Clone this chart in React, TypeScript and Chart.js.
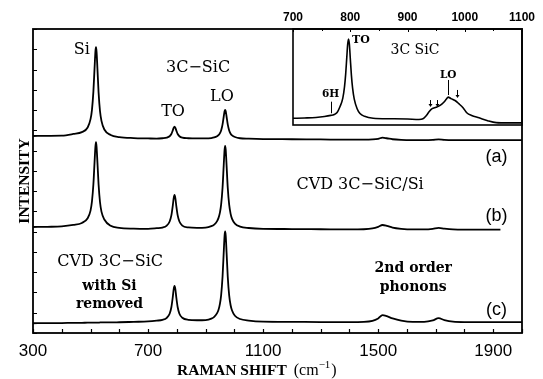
import React, { useEffect, useRef } from "react";
import { Chart, registerables } from "chart.js";
Chart.register(...registerables);

// ---- main spectra (Raman shift, cm^-1) ----
const ramanShift = [
  300, 350, 400, 440, 470, 490, 500, 505, 510, 514, 517, 519, 521, 524, 528, 533, 538, 548, 570, 600,
  650, 700, 730, 750, 765, 775, 781, 786, 789, 792, 795, 798, 803, 809, 819, 840, 870, 900, 920, 930,
  940, 945, 950, 954, 959, 963, 966, 968, 970, 973, 977, 982, 987, 992, 1002, 1020, 1050, 1100, 1200, 1300,
  1400, 1450, 1480, 1500, 1515, 1530, 1550, 1580, 1620, 1660, 1690, 1710, 1730, 1760, 1800, 1850, 1925, 2000,
];
// (a) 3C-SiC on Si (backscattering)
const spectrumA = [
  9.72, 9.73, 9.74, 9.82, 9.91, 10.14, 10.55, 11.01, 11.92, 13.07, 13.89, 14.1, 13.88, 13.04, 11.87, 10.94, 10.47, 10.04, 9.77, 9.67,
  9.62, 9.6, 9.59, 9.61, 9.64, 9.71, 9.82, 10.0, 10.12, 10.18, 10.12, 10.0, 9.82, 9.71, 9.64, 9.61, 9.6, 9.6, 9.62, 9.65,
  9.71, 9.76, 9.86, 9.99, 10.29, 10.67, 10.94, 11.01, 10.94, 10.67, 10.29, 9.99, 9.83, 9.75, 9.67, 9.61, 9.59, 9.57, 9.56, 9.55,
  9.54, 9.54, 9.55, 9.58, 9.64, 9.61, 9.56, 9.53, 9.52, 9.52, 9.53, 9.55, 9.53, 9.52, 9.52, 9.52, 9.52, 9.52,
];
// (b) CVD 3C-SiC/Si
const spectrumB = [
  5.23, 5.24, 5.26, 5.33, 5.43, 5.66, 6.04, 6.49, 7.35, 8.43, 9.2, 9.42, 9.19, 8.41, 7.33, 6.45, 5.99, 5.6, 5.29, 5.19,
  5.15, 5.14, 5.17, 5.2, 5.3, 5.5, 5.8, 6.29, 6.64, 6.81, 6.64, 6.29, 5.8, 5.5, 5.3, 5.21, 5.19, 5.2, 5.27, 5.35,
  5.52, 5.68, 5.95, 6.33, 7.18, 8.26, 9.04, 9.23, 9.04, 8.26, 7.18, 6.33, 5.88, 5.63, 5.4, 5.25, 5.18, 5.14, 5.13, 5.12,
  5.11, 5.12, 5.16, 5.24, 5.33, 5.29, 5.2, 5.14, 5.11, 5.11, 5.14, 5.19, 5.15, 5.11, 5.1, 5.1, 5.1, null,
];
// (c) CVD 3C-SiC with Si removed
const spectrumC = [
  0.48, 0.49, 0.49, 0.5, 0.5, 0.51, 0.51, 0.51, 0.51, 0.51, 0.51, 0.51, 0.51, 0.51, 0.51, 0.52, 0.52, 0.52, 0.52, 0.53,
  0.55, 0.57, 0.61, 0.65, 0.75, 0.95, 1.27, 1.78, 2.15, 2.32, 2.15, 1.78, 1.27, 0.95, 0.75, 0.65, 0.63, 0.64, 0.71, 0.8,
  0.98, 1.15, 1.45, 1.86, 2.79, 3.96, 4.8, 5.01, 4.8, 3.96, 2.79, 1.86, 1.37, 1.11, 0.85, 0.69, 0.61, 0.56, 0.55, 0.54,
  0.54, 0.55, 0.6, 0.72, 0.88, 0.83, 0.72, 0.61, 0.55, 0.55, 0.62, 0.73, 0.64, 0.56, 0.54, 0.54, 0.54, 0.54,
];
const xTickLabels = [300, 700, 1100, 1500, 1900];

// ---- inset: 3C SiC detail ----
const insetShift = [
  700, 720, 740, 755, 766, 772, 777, 782, 787, 790, 792, 794, 795.5, 797, 798.5, 800, 802, 804, 807, 812,
  817, 825, 840, 870, 900, 920, 927, 933, 938, 943, 950, 957, 963, 968, 971, 976, 983, 990, 997, 1004,
  1012, 1025, 1040, 1055, 1075, 1100,
];
const insetIntensity = [
  0.07, 0.073, 0.078, 0.088, 0.1, 0.11, 0.13, 0.19, 0.28, 0.4, 0.53, 0.71, 0.84, 0.895, 0.84, 0.7, 0.52, 0.39, 0.27, 0.17,
  0.12, 0.09, 0.07, 0.065, 0.062, 0.058, 0.065, 0.1, 0.14, 0.17, 0.185, 0.205, 0.235, 0.27, 0.29, 0.275, 0.255, 0.22, 0.18, 0.125,
  0.1, 0.075, 0.045, 0.025, 0.022, 0.022,
];
const insetTickLabels = [700, 800, 900, 1000, 1100];

const SERIF = "'DejaVu Serif', serif";
const TITLE_SERIF = "'Liberation Serif', 'Times New Roman', serif";
const SANS = "'Liberation Sans', Arial, sans-serif";

const mainNotes = [
  { text: "Si", x: 470, y: 13.96, font: `16px ${SERIF}` },
  { text: "3C\u2212SiC", x: 874, y: 13.08, font: `16px ${SERIF}` },
  { text: "TO", x: 787, y: 10.9, font: `16px ${SERIF}` },
  { text: "LO", x: 957, y: 11.64, font: `16px ${SERIF}` },
  { text: "(a)", x: 1911, y: 8.7, font: `18px ${SANS}` },
  { text: "CVD 3C\u2212SiC/Si", x: 1437, y: 7.3, font: `16px ${SERIF}` },
  { text: "(b)", x: 1911, y: 5.75, font: `18px ${SANS}` },
  { text: "CVD 3C\u2212SiC", x: 568, y: 3.5, font: `16px ${SERIF}` },
  { text: "with Si", x: 566, y: 2.32, font: `bold 14px ${SERIF}` },
  { text: "removed", x: 566, y: 1.43, font: `bold 14px ${SERIF}` },
  { text: "2nd order", x: 1622, y: 3.21, font: `bold 14px ${SERIF}` },
  { text: "phonons", x: 1622, y: 2.27, font: `bold 14px ${SERIF}` },
  { text: "(c)", x: 1911, y: 1.13, font: `18px ${SANS}` },
];

const mainDecor = {
  id: "mainDecor",
  afterDraw(chart: any) {
    const { ctx, chartArea: a } = chart;
    const x = chart.scales.x;
    const y = chart.scales.y;
    ctx.save();
    ctx.strokeStyle = "#000";
    ctx.lineWidth = 1.8;
    ctx.strokeRect(a.left, a.top, a.right - a.left, a.bottom - a.top);
    ctx.lineWidth = 1.2;
    ctx.beginPath();
    y.ticks.forEach((t: any) => {
      const py = Math.round(y.getPixelForValue(t.value)) + 0.5;
      ctx.moveTo(a.left, py);
      ctx.lineTo(a.left + 4, py);
    });
    x.ticks.forEach((t: any) => {
      const px = Math.round(x.getPixelForValue(t.value)) + 0.5;
      ctx.moveTo(px, a.bottom);
      ctx.lineTo(px, a.bottom - 4);
    });
    ctx.stroke();

    ctx.fillStyle = "#000";
    ctx.textAlign = "center";
    ctx.textBaseline = "middle";
    for (const n of mainNotes) {
      ctx.font = n.font;
      ctx.fillText(n.text, x.getPixelForValue(n.x), y.getPixelForValue(n.y));
    }

    // x-axis title with superscript
    ctx.textAlign = "left";
    ctx.textBaseline = "alphabetic";
    const base = 375;
    let tx = a.left + 144;
    ctx.font = `bold 15.5px ${TITLE_SERIF}`;
    ctx.fillText("RAMAN SHIFT", tx, base);
    tx += ctx.measureText("RAMAN SHIFT").width + 7;
    ctx.font = `16px ${TITLE_SERIF}`;
    ctx.fillText("(cm", tx, base);
    tx += ctx.measureText("(cm").width;
    ctx.font = `11px ${TITLE_SERIF}`;
    ctx.fillText("\u22121", tx, base - 7);
    tx += ctx.measureText("\u22121").width + 1;
    ctx.font = `16px ${TITLE_SERIF}`;
    ctx.fillText(")", tx, base);
    ctx.restore();
  },
};

const insetDecor = {
  id: "insetDecor",
  afterDraw(chart: any) {
    const { ctx, chartArea: a } = chart;
    const x = chart.scales.x;
    const y = chart.scales.y;
    ctx.save();
    ctx.strokeStyle = "#000";
    ctx.lineWidth = 1.6;
    ctx.strokeRect(a.left, a.top, a.right - a.left, a.bottom - a.top);
    ctx.lineWidth = 1;
    ctx.beginPath();
    x.ticks.forEach((t: any) => {
      const px = Math.round(x.getPixelForValue(t.value)) + 0.5;
      const len = t.value % 100 === 0 ? 3 : 2;
      ctx.moveTo(px, a.top);
      ctx.lineTo(px, a.top + len);
    });
    // marker lines: 6H and LO
    const vline = (w: number, v0: number, v1: number) => {
      const px = Math.round(x.getPixelForValue(w)) + 0.5;
      ctx.moveTo(px, y.getPixelForValue(v0));
      ctx.lineTo(px, y.getPixelForValue(v1));
    };
    vline(766, 0.243, 0.122);
    vline(971, 0.469, 0.3125);
    ctx.stroke();

    // arrows pointing down
    const arrow = (w: number, v0: number, v1: number) => {
      const px = Math.round(x.getPixelForValue(w)) + 0.5;
      const p0 = y.getPixelForValue(v0);
      const p1 = y.getPixelForValue(v1);
      ctx.beginPath();
      ctx.moveTo(px, p0);
      ctx.lineTo(px, p1 - 2);
      ctx.stroke();
      ctx.beginPath();
      ctx.moveTo(px - 2, p1 - 3);
      ctx.lineTo(px + 2, p1 - 3);
      ctx.lineTo(px, p1);
      ctx.closePath();
      ctx.fill();
    };
    ctx.fillStyle = "#000";
    arrow(939, 0.26, 0.1875);
    arrow(951, 0.26, 0.1875);
    arrow(986, 0.365, 0.28);

    ctx.textBaseline = "middle";
    ctx.textAlign = "left";
    ctx.font = `bold 11px ${SERIF}`;
    ctx.fillText("TO", x.getPixelForValue(803), y.getPixelForValue(0.885));
    ctx.textAlign = "center";
    ctx.font = `14px ${SERIF}`;
    ctx.fillText("3C SiC", x.getPixelForValue(913), y.getPixelForValue(0.78));
    ctx.font = `bold 10.5px ${SERIF}`;
    ctx.fillText("6H", x.getPixelForValue(765.5), y.getPixelForValue(0.316));
    ctx.fillText("LO", x.getPixelForValue(971), y.getPixelForValue(0.52));
    ctx.restore();
  },
};

export default function App() {
  const mainRef = useRef<HTMLCanvasElement | null>(null);
  const insetRef = useRef<HTMLCanvasElement | null>(null);

  useEffect(() => {
    const mk = (ys: (number | null)[]) => ({
      data: ramanShift.map((w, i) => ({ x: w, y: ys[i] })),
      borderColor: "#000",
      borderWidth: 1.8,
      pointRadius: 0,
      fill: false,
      cubicInterpolationMode: "monotone" as const,
      spanGaps: false,
    });
    const main = new Chart(mainRef.current as HTMLCanvasElement, {
      type: "line",
      data: { datasets: [mk(spectrumA), mk(spectrumB), mk(spectrumC)] },
      options: {
        responsive: false,
        animation: false,
        parsing: false,
        layout: { padding: { left: 0, top: 29, right: 21, bottom: 0 } },
        plugins: { legend: { display: false }, tooltip: { enabled: false } },
        scales: {
          x: {
            type: "linear",
            min: 300,
            max: 2000,
            afterFit: (s: any) => {
              s.height = 46;
            },
            grid: { display: false, drawTicks: false },
            border: { display: false },
            ticks: {
              stepSize: 100,
              autoSkip: false,
              maxRotation: 0,
              padding: 8,
              color: "#000",
              font: { family: SANS, size: 17 },
              callback: (v: any) => (xTickLabels.includes(Number(v)) ? String(v) : ""),
            },
          },
          y: {
            type: "linear",
            min: 0,
            max: 15,
            afterFit: (s: any) => {
              s.width = 33;
            },
            grid: { display: false, drawTicks: false },
            border: { display: false },
            ticks: { stepSize: 1, display: false },
            title: {
              display: true,
              text: "INTENSITY",
              color: "#000",
              font: { family: TITLE_SERIF, size: 15.5, weight: "bold" },
              padding: { top: 16, bottom: 0 },
            },
          },
        },
      } as any,
      plugins: [mainDecor],
    });

    const inset = new Chart(insetRef.current as HTMLCanvasElement, {
      type: "line",
      data: {
        datasets: [
          {
            data: insetShift.map((w, i) => ({ x: w, y: insetIntensity[i] })),
            borderColor: "#000",
            borderWidth: 1.6,
            pointRadius: 0,
            fill: false,
            cubicInterpolationMode: "monotone",
          },
        ],
      },
      options: {
        responsive: false,
        animation: false,
        parsing: false,
        layout: { padding: { left: 23, top: 0, right: 21, bottom: 7 } },
        plugins: { legend: { display: false }, tooltip: { enabled: false } },
        scales: {
          x: {
            type: "linear",
            position: "top",
            min: 700,
            max: 1100,
            afterFit: (s: any) => {
              s.height = 29;
            },
            grid: { display: false, drawTicks: false },
            border: { display: false },
            ticks: {
              stepSize: 50,
              autoSkip: false,
              maxRotation: 0,
              padding: 4,
              color: "#000",
              font: { family: SANS, size: 12, weight: "bold" },
              callback: (v: any) => (insetTickLabels.includes(Number(v)) ? String(v) : ""),
            },
          },
          y: { type: "linear", min: 0, max: 1, display: false },
        },
      } as any,
      plugins: [insetDecor],
    });

    return () => {
      main.destroy();
      inset.destroy();
    };
  }, []);

  return (
    <div style={{ position: "fixed", left: 0, top: 0, width: 543, height: 379, background: "#fff" }}>
      <canvas ref={mainRef} width={543} height={379} style={{ position: "absolute", left: 0, top: 0 }} />
      <canvas ref={insetRef} width={273} height={132} style={{ position: "absolute", left: 270, top: 0 }} />
    </div>
  );
}
